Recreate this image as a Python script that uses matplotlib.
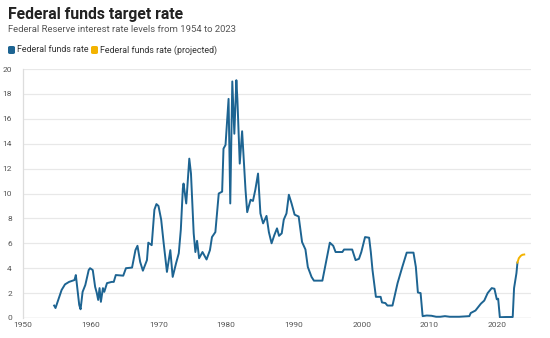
import matplotlib
matplotlib.use("Agg")
import matplotlib.pyplot as plt
from matplotlib.patches import FancyBboxPatch

years = [1954.6, 1954.8, 1955.2, 1955.7, 1956.2, 1956.8, 1957.6, 1957.8, 1958.0, 1958.3,
         1958.5, 1958.8, 1959.2, 1959.7, 1959.9, 1960.3, 1960.65, 1960.9, 1961.1, 1961.3,
         1961.5, 1961.8, 1962.0, 1962.4, 1963.1, 1963.4, 1963.7, 1964.8, 1965.2, 1966.1,
         1966.6, 1966.9, 1967.3, 1967.7, 1968.3, 1968.5, 1969.0, 1969.4, 1969.7, 1970.0,
         1970.4, 1970.75, 1971.25, 1971.75, 1972.1, 1972.6, 1973.0, 1973.3, 1973.6, 1973.7,
         1974.1, 1974.55, 1974.8, 1975.2, 1975.45, 1975.7, 1976.0, 1976.5, 1977.1, 1977.6,
         1977.9, 1978.4, 1978.9, 1979.4, 1979.6, 1979.9, 1980.35, 1980.6, 1980.9, 1981.2,
         1981.5, 1981.65, 1982.0, 1982.35, 1982.85, 1983.1, 1983.6, 1983.95, 1984.3, 1984.7,
         1985.05, 1985.45, 1985.95, 1986.3, 1986.7, 1987.1, 1987.5, 1987.8, 1988.2, 1988.5,
         1988.9, 1989.25, 1989.65, 1990.1, 1990.7, 1991.2, 1991.7, 1992.05, 1992.6, 1992.95,
         1994.2, 1994.6, 1994.85, 1995.3, 1995.8, 1996.15, 1997.15, 1997.4, 1998.6, 1999.1,
         1999.6, 1999.95, 2000.2, 2000.5, 2001.1, 2001.35, 2001.6, 2002.1, 2002.8, 2003.0,
         2003.5, 2003.8, 2004.55, 2005.3, 2006.0, 2006.65, 2007.65, 2008.0, 2008.3, 2008.7,
         2009.0, 2009.6, 2010.3, 2011.0, 2011.6, 2012.3, 2013.0, 2013.7, 2014.4, 2015.0,
         2015.9, 2016.1, 2016.8, 2017.6, 2018.1, 2018.6, 2019.2, 2019.6, 2019.95, 2020.15,
         2020.4, 2021.3, 2022.3, 2022.5, 2022.85, 2023.0]
rates = [1.0, 0.8, 1.45, 2.25, 2.7, 2.9, 3.05, 3.45, 2.5, 1.05,
         0.7, 2.1, 2.65, 3.85, 4.0, 3.85, 2.5, 2.0, 1.45, 2.4,
         1.3, 2.4, 2.1, 2.8, 2.9, 2.9, 3.45, 3.4, 4.0, 4.05,
         5.45, 5.8, 4.5, 3.8, 4.65, 6.05, 5.85, 8.7, 9.15, 9.0,
         7.9, 6.1, 3.7, 5.45, 3.3, 4.4, 5.2, 7.1, 10.4, 10.8,
         9.2, 12.8, 11.6, 6.8, 5.3, 6.2, 4.8, 5.3, 4.7, 5.45,
         6.5, 6.9, 10.0, 10.15, 13.6, 13.9, 17.6, 9.2, 19.0, 14.8,
         19.1, 17.6, 12.4, 15.0, 10.3, 8.5, 9.5, 9.4, 10.3, 11.6,
         8.4, 7.6, 8.2, 6.9, 6.0, 6.65, 7.2, 6.6, 6.8, 7.9,
         8.4, 9.9, 9.2, 8.3, 8.15, 6.1, 5.5, 4.1, 3.3, 3.0,
         3.0, 4.1, 4.8, 6.05, 5.8, 5.3, 5.3, 5.5, 5.5, 4.65,
         4.75, 5.3, 5.85, 6.5, 6.45, 5.3, 3.85, 1.7, 1.7, 1.25,
         1.2, 1.0, 1.0, 2.8, 4.1, 5.25, 5.25, 4.1, 2.05, 2.0,
         0.15, 0.2, 0.18, 0.1, 0.1, 0.15, 0.1, 0.1, 0.1, 0.12,
         0.15, 0.4, 0.6, 1.15, 1.4, 2.0, 2.4, 2.35, 1.5, 1.55,
         0.06, 0.08, 0.08, 2.4, 3.6, 4.45]

proj_years = [2023.0, 2023.2, 2023.5, 2023.75, 2024.0]
proj_rates = [4.45, 4.8, 5.0, 5.08, 5.1]

x_ticks = [1950, 1960, 1970, 1980, 1990, 2000, 2010, 2020]
y_ticks = [0, 2, 4, 6, 8, 10, 12, 14, 16, 18, 20]

title = "Federal funds target rate"
subtitle = "Federal Reserve interest rate levels from 1954 to 2023"
labels = ["Federal funds rate", "Federal funds rate (projected)"]
colors = ["#1d6492", "#f3b300"]

plt.rcParams['font.family'] = ['Roboto', 'DejaVu Sans']

fig = plt.figure(figsize=(5.5, 3.38), dpi=100)
ax = fig.add_axes([23/550, 1-318/338, (531-23)/550, (318-69)/338])

ax.plot(years, rates, color=colors[0], lw=1.4, solid_joinstyle='round', zorder=3)
ax.plot(proj_years, proj_rates, color=colors[1], lw=1.4, zorder=3)

ax.set_xlim(1950, 2025)
ax.set_ylim(0, 20)
ax.set_xticks(x_ticks)
ax.set_yticks(y_ticks)
ax.grid(axis='y', color='#e8e8e8', lw=0.9, zorder=0)
ax.set_axisbelow(True)
for s in ['top', 'right', 'bottom']:
    ax.spines[s].set_visible(False)
ax.spines['left'].set_color('#dddddd')
ax.spines['left'].set_linewidth(0.9)
ax.axhline(0, color='#d0d0d0', lw=0.9, zorder=1)
ax.tick_params(axis='both', length=0, labelsize=6, labelcolor='#555555')
ax.tick_params(axis='y', pad=8)
ax.tick_params(axis='x', pad=3)

fig.text(8/550, 1-14/338, title, fontsize=11.3, fontweight='bold', color='#222222', va='center', ha='left')
fig.text(8/550, 1-29/338, subtitle, fontsize=6.8, color='#555555', va='center', ha='left')

# legend
ly = 1 - 50/338
sq_w, sq_h = 7/550, 8/338
for i, (lx, tx) in enumerate([(8, 17), (91, 100)]):
    p = FancyBboxPatch((lx/550, ly - sq_h/2), sq_w, sq_h,
                       boxstyle="round,pad=0,rounding_size=0.004",
                       transform=fig.transFigure, facecolor=colors[i], edgecolor='none')
    fig.patches.append(p)
    fig.text(tx/550, ly, labels[i], fontsize=6.4, color='#333333', va='center', ha='left')

fig.savefig("out.png", dpi=100)
